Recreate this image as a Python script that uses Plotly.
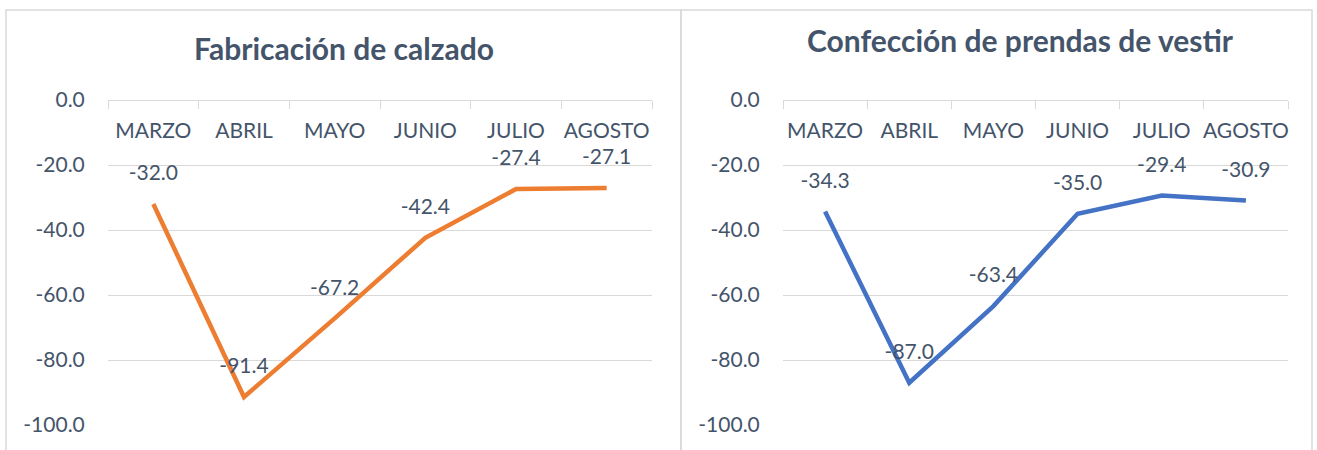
import plotly.graph_objects as go

months = ["MARZO", "ABRIL", "MAYO", "JUNIO", "JULIO", "AGOSTO"]
calzado = [-32.0, -91.4, -67.2, -42.4, -27.4, -27.1]
prendas = [-34.3, -87.0, -63.4, -35.0, -29.4, -30.9]
titles = ["Fabricación de calzado", "Confección de prendas de vestir"]
y_ticks = [0, -20, -40, -60, -80, -100]
y_ticktext = [f"{v:.1f}" for v in y_ticks]

W, H = 1317, 450
TXT = "#44546A"
GRID = "#D9D9D9"
FONT = "Lato"

fig = go.Figure()

for vals, color, xa, ya in [(calzado, "#ED7D31", "x", "y"), (prendas, "#4472C4", "x2", "y2")]:
    fig.add_trace(go.Scatter(
        x=months, y=vals, mode="lines+markers+text",
        line=dict(color=color, width=4.5),
        marker=dict(size=28, color="rgba(0,0,0,0)", line=dict(width=0)),
        text=[f"{v:.1f}" for v in vals], textposition="top center",
        textfont=dict(family=FONT, size=21, color=TXT),
        xaxis=xa, yaxis=ya, showlegend=False, hoverinfo="x+y",
    ))

y_top = 100
y_bot = 425
ydom = [1 - y_bot / H, 1 - y_top / H]

def xax(domain):
    return dict(
        domain=domain, anchor="free", position=ydom[1], type="category",
        range=[-0.5, 5.5], side="bottom", tickangle=0,
        tickson="boundaries",
        ticks="outside", ticklen=8, tickcolor=GRID, tickwidth=1,
        showline=True, linecolor=GRID, linewidth=1,
        showgrid=False, zeroline=False,
        tickfont=dict(family=FONT, size=21, color=TXT),
        ticklabelstandoff=12, automargin=False, fixedrange=True,
    )

def yax(anchor):
    return dict(
        domain=ydom, anchor=anchor, range=[-100, 0],
        tickvals=y_ticks, ticktext=y_ticktext,
        showgrid=True, gridcolor=GRID, gridwidth=1,
        zeroline=False, showline=False,
        ticks="outside", ticklen=18, tickcolor="rgba(0,0,0,0)",
        tickfont=dict(family=FONT, size=21, color=TXT),
        automargin=False, fixedrange=True,
    )

fig.update_layout(
    width=W, height=H,
    margin=dict(l=0, r=0, t=0, b=0),
    paper_bgcolor="white", plot_bgcolor="white",
    xaxis=xax([108 / W, 652 / W]),
    yaxis=yax("x"),
    xaxis2=xax([783 / W, 1288 / W]),
    yaxis2=yax("x2"),
    shapes=[
        dict(type="rect", xref="paper", yref="paper",
             x0=6 / W, x1=681 / W, y0=-0.1, y1=1 - 10 / H,
             line=dict(color=GRID, width=1.5), fillcolor="rgba(0,0,0,0)", layer="below"),
        dict(type="rect", xref="paper", yref="paper",
             x0=681 / W, x1=1312 / W, y0=-0.1, y1=1 - 10 / H,
             line=dict(color=GRID, width=1.5), fillcolor="rgba(0,0,0,0)", layer="below"),
    ],
    annotations=[
        dict(text=titles[0], xref="paper", yref="paper",
             x=344 / W, y=1 - 48 / H, xanchor="center", yanchor="middle",
             showarrow=False, font=dict(family=FONT, size=30, color=TXT, weight="bold")),
        dict(text=titles[1], xref="paper", yref="paper",
             x=1020 / W, y=1 - 40 / H, xanchor="center", yanchor="middle",
             showarrow=False, font=dict(family=FONT, size=30, color=TXT, weight="bold")),
    ],
)

fig.write_html("out.html", config={"displayModeBar": False},
               post_script="document.body.style.margin='0';")
